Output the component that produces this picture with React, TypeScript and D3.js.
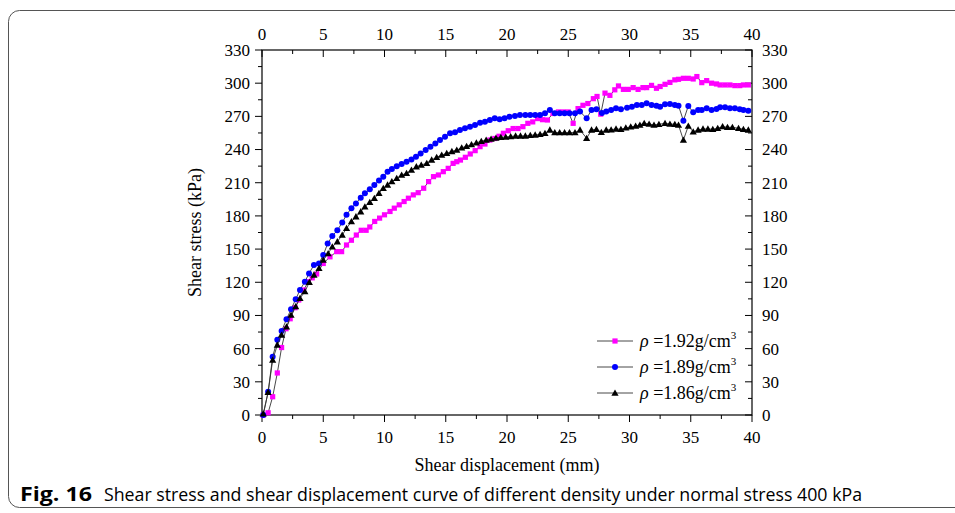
import React from "react";
import * as d3 from "d3";

const W = 955;
const H = 513;

const xTicks = [0, 5, 10, 15, 20, 25, 30, 35, 40];
const yTicks = [0, 30, 60, 90, 120, 150, 180, 210, 240, 270, 300, 330];

const seriesNames = ["1.92", "1.89", "1.86"];

const rho192: [number, number][] = [
  [0.1, 0], [0.5, 2], [0.87, 16.5], [1.25, 38], [1.6, 61], [1.96, 78], [2.3, 87], [2.7, 97], [3.0, 104], [3.4, 113],
  [3.78, 120.5], [4.1, 124], [4.46, 127.5], [5.0, 137], [5.55, 143], [6.1, 147.7], [6.5, 147.7], [6.9, 153.7], [7.3, 158], [7.7, 162.7],
  [8.1, 167], [8.5, 167], [8.8, 170], [9.2, 175], [9.6, 178], [10.0, 181], [10.45, 184], [10.8, 187], [11.2, 190], [11.6, 193],
  [11.95, 196], [12.35, 199], [12.75, 201], [13.2, 205], [13.6, 211], [14.0, 215.5], [14.4, 217], [14.8, 220], [15.2, 223], [15.6, 227.5],
  [15.9, 229], [16.2, 230.5], [16.6, 233], [17.0, 236], [17.4, 239], [17.8, 242.6], [18.2, 245], [18.6, 248.6], [19.0, 250], [19.35, 252],
  [19.7, 254.7], [20.1, 257], [20.5, 259], [20.9, 259], [21.3, 260.7], [21.7, 263.7], [22.1, 265], [22.5, 268], [22.9, 267], [23.3, 266.7],
  [23.75, 272.6], [24.2, 274], [24.6, 274], [25.0, 274], [25.4, 263.7], [25.8, 277], [26.2, 280], [26.6, 281.6], [27.05, 286], [27.35, 288],
  [27.65, 272], [28.0, 291], [28.4, 289], [28.8, 294], [29.1, 297.5], [29.5, 294.4], [29.9, 294.4], [30.3, 296], [30.7, 294.4], [31.1, 296],
  [31.4, 296], [31.8, 298], [32.2, 295.4], [32.5, 297], [32.9, 299], [33.3, 300.7], [33.7, 303], [34.0, 303.5], [34.4, 304.4], [34.8, 304.4],
  [35.2, 303.8], [35.5, 306], [35.9, 300.5], [36.3, 302.3], [36.7, 300], [37.1, 299.3], [37.4, 298.4], [37.8, 298.4], [38.2, 298.4], [38.6, 297.8],
  [39.0, 297.8], [39.3, 298.4], [39.7, 298.4],
];

const rho189: [number, number][] = [
  [0.1, 0], [0.5, 21], [0.87, 52.7], [1.25, 68], [1.6, 76], [2.0, 86.5], [2.37, 95.5], [2.75, 104.6], [3.1, 113], [3.5, 120.5],
  [3.84, 128], [4.24, 135.6], [4.65, 137], [5.0, 144.6], [5.36, 155], [5.74, 161.8], [6.15, 167], [6.55, 174], [6.9, 181], [7.3, 187],
  [7.67, 191.3], [8.06, 196.5], [8.4, 200.4], [8.8, 204], [9.17, 208], [9.55, 212], [9.9, 215.5], [10.25, 220], [10.6, 222.4], [11.0, 225],
  [11.4, 227], [11.8, 229], [12.2, 231], [12.57, 233.5], [12.95, 236.5], [13.36, 239.6], [13.75, 242.5], [14.15, 245.5], [14.53, 248.6], [14.94, 251.6],
  [15.35, 254.7], [15.76, 255.6], [16.16, 257.7], [16.57, 259.2], [16.98, 260.7], [17.39, 262.2], [17.8, 264.3], [18.2, 265.2], [18.6, 266.7], [19.0, 268.2],
  [19.4, 267.3], [19.8, 268.2], [20.2, 269.7], [20.65, 270.3], [21.06, 271.2], [21.5, 271.2], [21.9, 271.2], [22.3, 271.2], [22.7, 271.2], [23.1, 272.8],
  [23.5, 275.8], [23.9, 272.8], [24.3, 272.8], [24.7, 272.8], [25.1, 272.8], [25.55, 272.8], [25.96, 274.3], [26.5, 268.2], [26.9, 275.8], [27.3, 276.4],
  [27.75, 273], [28.1, 274.3], [28.5, 275.8], [28.9, 277.3], [29.3, 276.4], [29.8, 277.9], [30.2, 278.8], [30.6, 280.3], [31.0, 280.3], [31.4, 281.8],
  [31.8, 280.3], [32.2, 279.7], [32.5, 278.8], [32.9, 280.9], [33.3, 281.2], [33.7, 280.3], [34.0, 279.7], [34.4, 266.1], [34.8, 279.4], [35.2, 273.7],
  [35.6, 275.8], [35.9, 275.8], [36.3, 277.3], [36.7, 275.8], [37.1, 276.7], [37.4, 278.2], [37.8, 278.2], [38.2, 277.3], [38.6, 277.3], [39.0, 276.4],
  [39.3, 275.8], [39.7, 275.1],
];

const rho186: [number, number][] = [
  [0.1, 1], [0.5, 20.5], [0.87, 49.7], [1.25, 63.3], [1.6, 72.3], [2.0, 79.8], [2.37, 90.4], [2.75, 98], [3.1, 105.5], [3.5, 111.5],
  [3.86, 120], [4.24, 126.6], [4.65, 132.6], [5.0, 140], [5.4, 146], [5.74, 152], [6.15, 156.7], [6.55, 162.7], [6.9, 168.8], [7.3, 174.8],
  [7.67, 179.3], [8.06, 183.8], [8.4, 188.3], [8.8, 192.3], [9.17, 195.9], [9.55, 200.4], [9.9, 205], [10.25, 208], [10.6, 211], [11.0, 214],
  [11.4, 217], [11.8, 218.5], [12.2, 221.5], [12.6, 224.5], [13.0, 226], [13.45, 227.6], [13.85, 230.6], [14.26, 233], [14.67, 235], [15.08, 236.6],
  [15.5, 238.3], [15.9, 239.5], [16.3, 241.5], [16.7, 243], [17.1, 244.5], [17.5, 246], [17.9, 247.5], [18.3, 248.6], [18.7, 249.4], [19.1, 250.4],
  [19.5, 251.1], [19.9, 251.3], [20.3, 251.8], [20.7, 252.3], [21.1, 252.3], [21.5, 252.3], [21.9, 252.9], [22.3, 253.2], [22.7, 253.7], [23.1, 254.7],
  [23.5, 257.7], [23.9, 255.3], [24.3, 255.3], [24.7, 255.3], [25.1, 255.3], [25.55, 255.3], [25.96, 257.7], [26.5, 250.2], [26.9, 257.7], [27.3, 258.3],
  [27.7, 255.5], [28.1, 257.7], [28.5, 257.9], [28.9, 258.6], [29.3, 258.3], [29.7, 259.6], [30.1, 260.5], [30.5, 261.2], [30.85, 262.2], [31.2, 263.7],
  [31.6, 263.1], [32.0, 262.2], [32.4, 262.8], [32.9, 263.7], [33.3, 263.1], [33.7, 262.8], [34.0, 262.2], [34.4, 248.6], [34.8, 261.3], [35.2, 256.1],
  [35.6, 257.7], [36.0, 258.6], [36.4, 258.6], [36.8, 258.3], [37.2, 259.2], [37.6, 260.7], [38.0, 260.1], [38.4, 260.1], [38.9, 259.2], [39.3, 258.3],
  [39.7, 257.7],
];

const SERIF = "'Liberation Serif', 'Times New Roman', serif";
const SANS = "'Open Sans', 'Noto Sans', sans-serif";

type Marker = "square" | "circle" | "triangle";

function MarkerShape({ kind, cx, cy, color }: { kind: Marker; cx: number; cy: number; color: string }) {
  if (kind === "square") return <rect x={cx - 2.6} y={cy - 2.6} width={5.2} height={5.2} fill={color} />;
  if (kind === "circle") return <circle cx={cx} cy={cy} r={3} fill={color} />;
  const s = 3.6;
  return <path d={`M${cx},${cy - s} L${cx + s},${cy + s * 0.75} L${cx - s},${cy + s * 0.75} Z`} fill={color} />;
}

export default function App() {
  const x = d3.scaleLinear().domain([0, 40]).range([262, 752]);
  const y = d3.scaleLinear().domain([0, 330]).range([415, 50]);
  const line = d3
    .line<[number, number]>()
    .x((d) => x(d[0]))
    .y((d) => y(d[1]));

  const series = [
    { name: seriesNames[0], data: rho192, color: "#ff00ff", kind: "square" as Marker },
    { name: seriesNames[1], data: rho189, color: "#0000ff", kind: "circle" as Marker },
    { name: seriesNames[2], data: rho186, color: "#000000", kind: "triangle" as Marker },
  ];

  const xMinor = d3.range(0, 40, 2.5).filter((v) => v % 5 !== 0);
  const yMinor = d3.range(15, 330, 30);
  const [x0, x1] = x.range();
  const [y0, y1] = y.range();

  return (
    <svg width={W} height={H} style={{ position: "absolute", left: 0, top: 0, background: "#fff" }}>
      <rect x={8.5} y={10.5} width={1000} height={497} rx={11} fill="none" stroke="#555" strokeWidth={1} />

      {/* frame */}
      <rect x={x0} y={y1} width={x1 - x0} height={y0 - y1} fill="none" stroke="#000" strokeWidth={1.2} />

      {/* bottom & top axes */}
      {xTicks.map((t) => (
        <g key={"b" + t}>
          <line x1={x(t)} x2={x(t)} y1={y0} y2={y0 + 7} stroke="#000" />
          <text x={x(t)} y={y0 + 28} textAnchor="middle" fontFamily={SERIF} fontSize={17}>{t}</text>
          <line x1={x(t)} x2={x(t)} y1={y1} y2={y1 + 7} stroke="#000" />
          <text x={x(t)} y={y1 - 10} textAnchor="middle" fontFamily={SERIF} fontSize={17}>{t}</text>
        </g>
      ))}
      {xMinor.map((t) => (
        <g key={"bm" + t}>
          <line x1={x(t)} x2={x(t)} y1={y0} y2={y0 + 4} stroke="#000" />
          <line x1={x(t)} x2={x(t)} y1={y1} y2={y1 + 4} stroke="#000" />
        </g>
      ))}

      {/* left & right axes */}
      {yTicks.map((t) => (
        <g key={"l" + t}>
          <line x1={x0 - 7} x2={x0} y1={y(t)} y2={y(t)} stroke="#000" />
          <text x={x0 - 12} y={y(t)} dy="0.35em" textAnchor="end" fontFamily={SERIF} fontSize={17}>{t}</text>
          <line x1={x1 - 7} x2={x1} y1={y(t)} y2={y(t)} stroke="#000" />
          <text x={x1 + 10} y={y(t)} dy="0.35em" textAnchor="start" fontFamily={SERIF} fontSize={17}>{t}</text>
        </g>
      ))}
      {yMinor.map((t) => (
        <g key={"lm" + t}>
          <line x1={x0 - 4} x2={x0} y1={y(t)} y2={y(t)} stroke="#000" />
          <line x1={x1 - 4} x2={x1} y1={y(t)} y2={y(t)} stroke="#000" />
        </g>
      ))}

      {/* axis titles */}
      <text x={(x0 + x1) / 2} y={471} textAnchor="middle" fontFamily={SERIF} fontSize={18}>Shear displacement (mm)</text>
      <text transform={`translate(201,${(y0 + y1) / 2}) rotate(-90)`} textAnchor="middle" fontFamily={SERIF} fontSize={18}>Shear stress (kPa)</text>

      {/* series */}
      {series.map((s) => (
        <g key={s.name}>
          <path d={line(s.data) || ""} fill="none" stroke="#333" strokeWidth={0.9} />
          {s.data.map((d, i) => (
            <MarkerShape key={i} kind={s.kind} cx={x(d[0])} cy={y(d[1])} color={s.color} />
          ))}
        </g>
      ))}

      {/* legend */}
      {series.map((s, i) => {
        const ly = 341 + i * 26;
        return (
          <g key={"lg" + s.name}>
            <line x1={597} x2={633} y1={ly} y2={ly} stroke="#333" strokeWidth={0.9} />
            <MarkerShape kind={s.kind} cx={615} cy={ly} color={s.color} />
            <text x={640} y={ly + 6} fontFamily={SERIF} fontSize={18}>
              <tspan fontStyle="italic">ρ</tspan>
              <tspan>{" =" + s.name + "g/cm"}</tspan>
              <tspan fontSize={11} dy={-8}>3</tspan>
            </text>
          </g>
        );
      })}

      {/* caption */}
      <text x={20} y={501} fontFamily={SANS} fontWeight="bold" fontSize={19} textLength={72} lengthAdjust="spacingAndGlyphs">Fig. 16</text>
      <text x={104} y={501} fontFamily={SANS} fontSize={19} textLength={758} lengthAdjust="spacingAndGlyphs">
        Shear stress and shear displacement curve of different density under normal stress 400 kPa
      </text>
    </svg>
  );
}
